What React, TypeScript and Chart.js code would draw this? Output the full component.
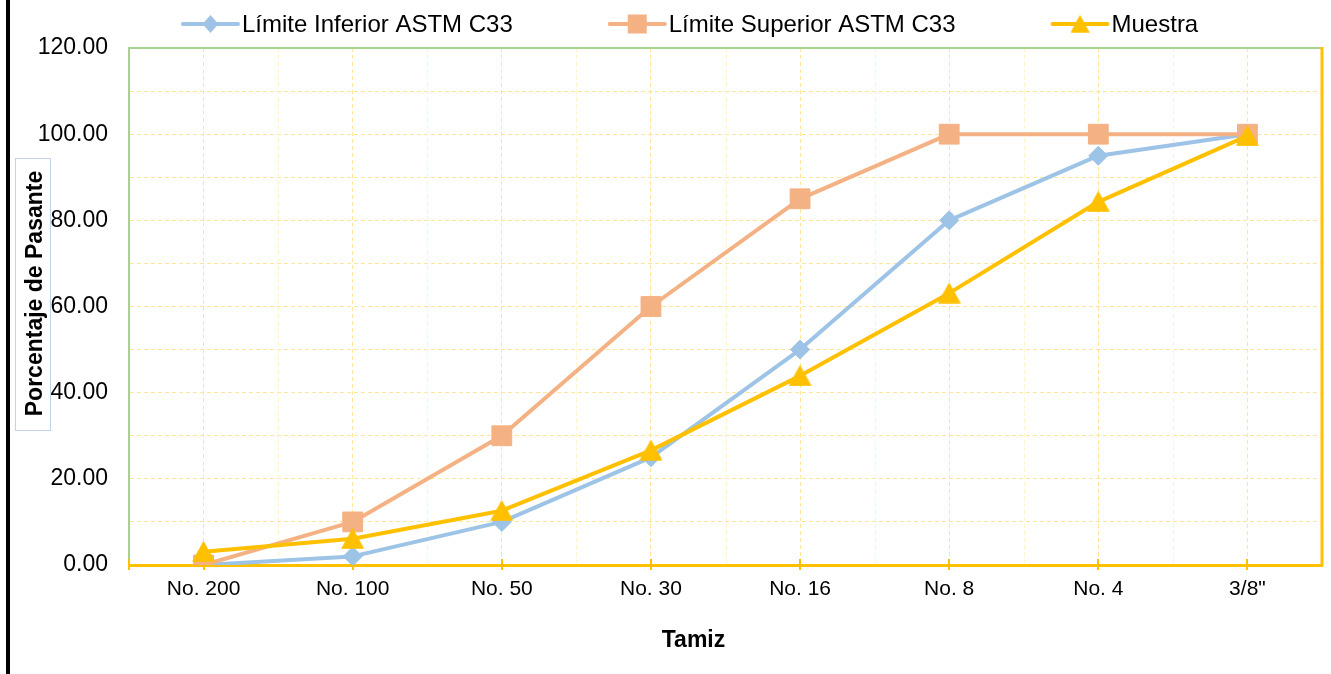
import React, { useEffect, useRef } from 'react';
import { Chart, registerables } from 'chart.js';

Chart.register(...registerables);

// ---------- data ----------
const categories = ['No. 200', 'No. 100', 'No. 50', 'No. 30', 'No. 16', 'No. 8', 'No. 4', '3/8"'];
const lowerLimit = [0, 2, 10, 25, 50, 80, 95, 100];
const upperLimit = [0, 10, 30, 60, 85, 100, 100, 100];
const sample = [3.1, 6.1, 12.6, 26.6, 43.9, 63.1, 84.3, 99.6];
const seriesNames = ['Límite Inferior ASTM C33', 'Límite Superior ASTM C33', 'Muestra'];
const yTitle = 'Porcentaje de Pasante';
const xTitle = 'Tamiz';
const yMin = 0;
const yMax = 120;
const yStep = 10;
const yLabelStep = 20;

// ---------- style ----------
const BLUE = '#9DC3E6';
const ORANGE = '#F4B183';
const YELLOW = '#FFC000';
const GREEN = '#A9D18E';
const GRID_MAJOR = '#FFE699';
const GRID_MINOR = '#FFF2CC';
const FONT = '"Liberation Sans", Arial, Helvetica, sans-serif';

function makeTriangle(w: number, h: number, color: string): HTMLCanvasElement {
  const c = document.createElement('canvas');
  c.width = w;
  c.height = h;
  const ctx = c.getContext('2d')!;
  ctx.fillStyle = color;
  ctx.strokeStyle = color;
  ctx.lineJoin = 'round';
  ctx.lineWidth = 1.5;
  ctx.beginPath();
  ctx.moveTo(w / 2, 1);
  ctx.lineTo(w - 1, h - 1);
  ctx.lineTo(1, h - 1);
  ctx.closePath();
  ctx.fill();
  ctx.stroke();
  return c;
}

export default function App() {
  const ref = useRef<HTMLCanvasElement | null>(null);

  useEffect(() => {
    if (!ref.current) return;
    const tri = makeTriangle(23, 21, YELLOW);

    const decor = {
      id: 'decor',
      beforeDatasetsDraw(chart: any) {
        const { ctx, chartArea: a } = chart;
        const x = chart.scales.x;
        ctx.save();
        // minor vertical gridlines at category boundaries
        ctx.strokeStyle = GRID_MINOR;
        ctx.lineWidth = 1;
        ctx.setLineDash([4, 3]);
        for (let i = 0; i < categories.length - 1; i++) {
          const px = Math.round((x.getPixelForValue(i) + x.getPixelForValue(i + 1)) / 2) + 0.5;
          ctx.beginPath();
          ctx.moveTo(px, a.top);
          ctx.lineTo(px, a.bottom);
          ctx.stroke();
        }
        ctx.setLineDash([]);
        // top border (green) and right border (yellow)
        ctx.strokeStyle = GREEN;
        ctx.lineWidth = 2;
        ctx.beginPath();
        ctx.moveTo(a.left, a.top);
        ctx.lineTo(a.right, a.top);
        ctx.stroke();
        ctx.strokeStyle = YELLOW;
        ctx.lineWidth = 3;
        ctx.beginPath();
        ctx.moveTo(a.right, a.top - 1);
        ctx.lineTo(a.right, a.bottom + 1);
        ctx.stroke();
        // cross tick marks on the category axis
        ctx.lineWidth = 2;
        const tickXs = [a.left, ...categories.map((_, i) => x.getPixelForValue(i))];
        for (const t of tickXs) {
          const px = Math.round(t);
          ctx.beginPath();
          ctx.moveTo(px, a.bottom - 6);
          ctx.lineTo(px, a.bottom + 5);
          ctx.stroke();
        }
        ctx.restore();
      },
      afterDraw(chart: any) {
        const { ctx } = chart;
        ctx.save();
        // legend
        const items = [
          { name: seriesNames[0], color: BLUE, marker: 'diamond' },
          { name: seriesNames[1], color: ORANGE, marker: 'square' },
          { name: seriesNames[2], color: YELLOW, marker: 'triangle' },
        ];
        ctx.font = `24px ${FONT}`;
        let cx = 183;
        const ly = 24;
        for (const it of items) {
          ctx.strokeStyle = it.color;
          ctx.fillStyle = it.color;
          ctx.lineWidth = 4;
          ctx.lineCap = 'round';
          ctx.beginPath();
          ctx.moveTo(cx, ly);
          ctx.lineTo(cx + 55, ly);
          ctx.stroke();
          const mx = cx + 27.5;
          if (it.marker === 'diamond') {
            ctx.beginPath();
            ctx.moveTo(mx, ly - 9);
            ctx.lineTo(mx + 8, ly);
            ctx.lineTo(mx, ly + 9);
            ctx.lineTo(mx - 8, ly);
            ctx.closePath();
            ctx.fill();
          } else if (it.marker === 'square') {
            ctx.fillRect(mx - 9.5, ly - 9.5, 19, 19);
          } else {
            ctx.drawImage(tri, mx - 9.5, ly - 9, 19, 18);
          }
          ctx.fillStyle = '#000';
          ctx.textAlign = 'left';
          ctx.textBaseline = 'alphabetic';
          ctx.fillText(it.name, cx + 59, 32);
          cx += 59 + ctx.measureText(it.name).width + 97;
        }
        // y-axis title box
        ctx.fillStyle = '#fff';
        ctx.fillRect(15, 158, 36, 273);
        ctx.strokeStyle = '#C3D1EC';
        ctx.lineWidth = 1;
        ctx.strokeRect(15.5, 158.5, 35, 272);
        ctx.save();
        ctx.translate(41.5, 293.5);
        ctx.rotate(-Math.PI / 2);
        ctx.font = `bold 23px ${FONT}`;
        ctx.fillStyle = '#000';
        ctx.textAlign = 'center';
        ctx.textBaseline = 'alphabetic';
        ctx.fillText(yTitle, 0, 0);
        ctx.restore();
        // x-axis title
        ctx.font = `bold 23px ${FONT}`;
        ctx.fillStyle = '#000';
        ctx.textAlign = 'center';
        ctx.textBaseline = 'alphabetic';
        ctx.fillText(xTitle, 693.5, 647);
        ctx.restore();
      },
    };

    const chart = new Chart(ref.current, {
      type: 'line',
      data: {
        labels: categories,
        datasets: [
          {
            label: seriesNames[0],
            data: lowerLimit,
            borderColor: BLUE,
            backgroundColor: BLUE,
            borderWidth: 4,
            pointStyle: 'rectRot',
            pointRadius: 9.5,
            pointBorderWidth: 1,
            pointBorderColor: BLUE,
            pointBackgroundColor: BLUE,
            borderCapStyle: 'round',
            borderJoinStyle: 'round',
            tension: 0,
            order: 2,
          },
          {
            label: seriesNames[1],
            data: upperLimit,
            borderColor: ORANGE,
            backgroundColor: ORANGE,
            borderWidth: 4,
            pointStyle: 'rect',
            pointRadius: 14,
            pointBorderWidth: 1,
            pointBorderColor: ORANGE,
            pointBackgroundColor: ORANGE,
            borderCapStyle: 'round',
            borderJoinStyle: 'round',
            tension: 0,
            order: 1,
          },
          {
            label: seriesNames[2],
            data: sample,
            borderColor: YELLOW,
            backgroundColor: YELLOW,
            borderWidth: 4,
            pointStyle: tri as any,
            pointRadius: 11,
            borderCapStyle: 'round',
            borderJoinStyle: 'round',
            tension: 0,
            order: 0,
          },
        ],
      },
      options: {
        animation: false,
        responsive: false,
        events: [],
        layout: { autoPadding: false, padding: { top: 48, right: 9, left: 0, bottom: 0 } },
        plugins: {
          legend: { display: false },
          tooltip: { enabled: false },
          title: { display: false },
        },
        scales: {
          x: {
            type: 'category',
            offset: true,
            afterFit: (s: any) => {
              s.height = 109;
              s.paddingLeft = 0;
              s.paddingRight = 0;
            },
            grid: {
              display: true,
              offset: false,
              color: GRID_MAJOR,
              lineWidth: 1,
              drawTicks: false,
            },
            border: { display: true, color: YELLOW, width: 3, dash: [4, 3] },
            ticks: {
              color: '#000',
              font: { family: FONT, size: 21 },
              padding: 12,
              autoSkip: false,
              maxRotation: 0,
              minRotation: 0,
            },
          },
          y: {
            min: yMin,
            max: yMax,
            afterFit: (s: any) => {
              s.width = 129;
            },
            grid: {
              color: GRID_MAJOR,
              lineWidth: 1,
              drawTicks: false,
            },
            border: { display: true, color: GREEN, width: 2, dash: [4, 3] },
            ticks: {
              stepSize: yStep,
              color: '#000',
              font: { family: FONT, size: 23 },
              padding: 21,
              callback: (v: any) => (Number(v) % yLabelStep === 0 ? Number(v).toFixed(2) : ''),
            },
          },
        },
      },
      plugins: [decor],
    });

    return () => chart.destroy();
  }, []);

  return (
    <div style={{ position: 'fixed', left: 0, top: 0, width: 1331, height: 674, background: '#fff' }}>
      <div style={{ position: 'absolute', left: 6, top: 0, width: 4, height: 674, background: '#000' }} />
      <canvas ref={ref} width={1331} height={674} style={{ position: 'absolute', left: 0, top: 0 }} />
    </div>
  );
}
